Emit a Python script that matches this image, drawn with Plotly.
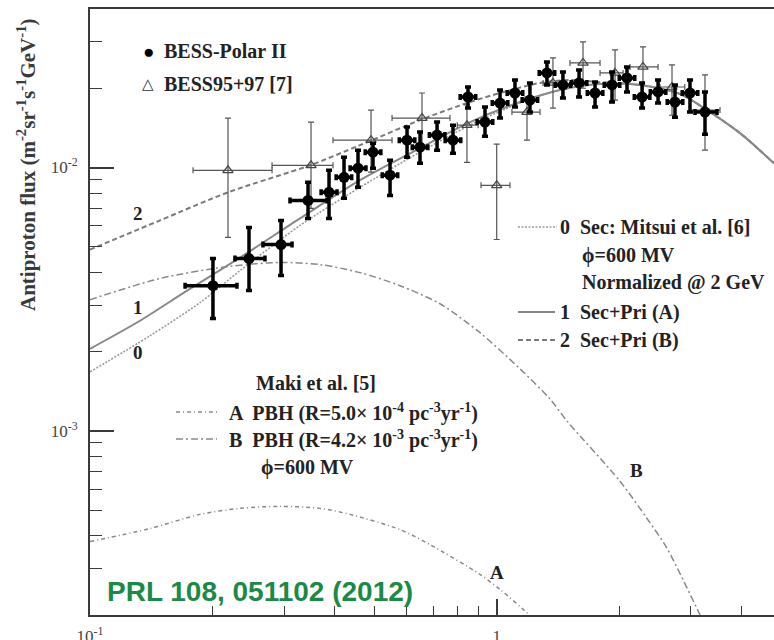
import plotly.graph_objects as go

# ---------------- data ----------------
# BESS-Polar II
bp_E = [0.2006, 0.246, 0.2949, 0.3436, 0.387, 0.4213, 0.456, 0.4964, 0.5467, 0.6019,
        0.6478, 0.7134, 0.7807, 0.85, 0.9359, 1.019, 1.109, 1.207, 1.329, 1.455,
        1.594, 1.745, 1.921, 2.091, 2.277, 2.493, 2.744, 2.987, 3.252]
bp_E_lo = [0.1713, 0.2272, 0.2662, 0.3103, 0.370, 0.403, 0.436, 0.475, 0.523, 0.576,
           0.620, 0.683, 0.747, 0.813, 0.895, 0.975, 1.061, 1.155, 1.272, 1.392,
           1.525, 1.670, 1.838, 2.001, 2.179, 2.386, 2.626, 2.858, 3.073]
bp_E_hi = [0.2298, 0.2693, 0.3139, 0.3825, 0.405, 0.440, 0.477, 0.519, 0.571, 0.629,
           0.677, 0.746, 0.816, 0.888, 0.978, 1.065, 1.159, 1.261, 1.389, 1.520,
           1.666, 1.824, 2.007, 2.185, 2.380, 2.605, 2.868, 3.122, 3.481]
bp_flux = [3.56e-3, 4.51e-3, 5.10e-3, 7.50e-3, 8.05e-3, 9.18e-3, 9.94e-3, 1.144e-2, 9.35e-3, 1.27e-2,
           1.195e-2, 1.328e-2, 1.27e-2, 1.853e-2, 1.488e-2, 1.758e-2, 1.919e-2, 1.804e-2, 2.287e-2, 2.059e-2,
           2.095e-2, 1.919e-2, 2.059e-2, 2.189e-2, 1.853e-2, 1.936e-2, 1.773e-2, 1.919e-2, 1.624e-2]
bp_flux_hi = [4.51e-3, 5.92e-3, 6.29e-3, 8.79e-3, 9.76e-3, 1.094e-2, 1.164e-2, 1.238e-2, 1.066e-2, 1.424e-2,
              1.363e-2, 1.488e-2, 1.449e-2, 2.022e-2, 1.697e-2, 1.97e-2, 2.15e-2, 2.095e-2, 2.518e-2, 2.307e-2,
              2.348e-2, 2.113e-2, 2.307e-2, 2.41e-2, 2.095e-2, 2.15e-2, 2.059e-2, 2.15e-2, 1.936e-2]
bp_flux_lo = [2.67e-3, 3.41e-3, 3.89e-3, 6.41e-3, 6.41e-3, 7.64e-3, 8.41e-3, 9.94e-3, 7.84e-3, 1.094e-2,
              1.038e-2, 1.164e-2, 1.134e-2, 1.682e-2, 1.316e-2, 1.541e-2, 1.697e-2, 1.624e-2, 2.059e-2, 1.837e-2,
              1.853e-2, 1.697e-2, 1.773e-2, 1.936e-2, 1.682e-2, 1.758e-2, 1.553e-2, 1.624e-2, 1.339e-2]

# BESS95+97
b9_E = [0.2184, 0.3495, 0.4909, 0.6551, 0.845, 1.0, 1.187, 1.375, 1.630, 1.954, 2.289, 2.698, 3.252]
b9_E_lo = [0.1792, 0.2803, 0.3958, 0.5529, 0.80, 0.915, 1.090, 1.30, 1.514, 1.795, 2.127, 2.52, 2.987]
b9_E_hi = [0.2803, 0.3958, 0.5529, 0.7675, 0.90, 1.078, 1.278, 1.45, 1.795, 2.045, 2.493, 2.90, 3.54]
b9_flux = [9.76e-3, 1.02e-2, 1.27e-2, 1.541e-2, 1.449e-2, 8.56e-3, 1.624e-2, 2.095e-2, 2.497e-2, 2.287e-2,
           2.41e-2, 2.022e-2, 1.653e-2]
b9_flux_hi = [1.541e-2, 1.488e-2, 1.653e-2, 1.919e-2, 1.73e-2, 1.227e-2, 1.85e-2, 2.608e-2, 3.0e-2, 2.798e-2,
              2.872e-2, 2.453e-2, 2.247e-2]
b9_flux_lo = [5.43e-3, 7.0e-3, 9.6e-3, 1.216e-2, 1.047e-2, 5.33e-3, 1.27e-2, 1.682e-2, 2.0e-2, 1.804e-2,
              1.88e-2, 1.58e-2, 1.164e-2]

# model curves
c0_E = [0.1, 0.1404, 0.1864, 0.2338, 0.3284, 0.4612, 0.6475, 0.86, 1.141, 1.431, 1.795, 2.251, 2.823, 3.289, 3.965, 4.806]
c0_flux = [1.675e-3, 2.297e-3, 3.07e-3, 4.06e-3, 6.03e-3, 8.41e-3, 1.144e-2, 1.449e-2, 1.758e-2, 1.97e-2,
           2.077e-2, 2.059e-2, 1.902e-2, 1.653e-2, 1.351e-2, 1.038e-2]
c1_E = [0.1, 0.1327, 0.1732, 0.2338, 0.3284, 0.4612, 0.6475, 0.86, 1.141, 1.431, 1.795, 2.251, 2.823, 3.289, 3.965, 4.806]
c1_flux = [2.05e-3, 2.62e-3, 3.41e-3, 4.55e-3, 6.41e-3, 8.95e-3, 1.184e-2, 1.488e-2, 1.773e-2, 1.97e-2,
           2.077e-2, 2.059e-2, 1.902e-2, 1.653e-2, 1.351e-2, 1.038e-2]
c2_E = [0.1, 0.1486, 0.2184, 0.3475, 0.4612, 0.6475, 0.86, 1.019, 1.278, 1.514, 1.795, 2.251, 2.823, 3.289, 3.965, 4.806]
c2_flux = [4.88e-3, 6.30e-3, 8.05e-3, 1.02e-2, 1.216e-2, 1.514e-2, 1.773e-2, 1.919e-2, 2.095e-2, 2.15e-2,
           2.11e-2, 2.059e-2, 1.902e-2, 1.653e-2, 1.351e-2, 1.038e-2]
cA_E = [0.1, 0.1404, 0.1864, 0.2338, 0.2932, 0.3677, 0.4357, 0.5783, 0.6855, 0.9097, 1.019, 1.207, 1.278]
cA_flux = [3.80e-4, 4.26e-4, 4.82e-4, 5.08e-4, 5.17e-4, 5.08e-4, 4.82e-4, 4.22e-4, 3.70e-4, 2.85e-4,
           2.50e-4, 1.99e-4, 1.805e-4]
cB_E = [0.1, 0.1486, 0.2184, 0.2932, 0.3677, 0.4612, 0.5783, 0.7252, 0.9097, 1.141, 1.352, 1.489,
        2.010, 2.342, 2.623, 3.161, 3.384]
cB_flux = [3.15e-3, 3.79e-3, 4.21e-3, 4.36e-3, 4.28e-3, 3.99e-3, 3.56e-3, 3.04e-3, 2.36e-3, 1.72e-3,
           1.322e-3, 1.09e-3, 6.44e-4, 4.65e-4, 3.58e-4, 2.005e-4, 1.63e-4]

x_major = [0.1, 1]
x_major_text = ["10<sup>-1</sup>", "1"]
x_minor = [0.2, 0.3, 0.4, 0.5, 0.6, 0.7, 0.8, 0.9, 2, 3, 4]
y_major = [1e-3, 1e-2]
y_major_text = ["10<sup>-3</sup>", "10<sup>-2</sup>"]
y_minor = [3e-4, 4e-4, 5e-4, 6e-4, 7e-4, 8e-4, 9e-4,
           2e-3, 3e-3, 4e-3, 5e-3, 6e-3, 7e-3, 8e-3, 9e-3, 2e-2, 3e-2, 4e-2]

# ---------------- figure ----------------
SERIF = "Liberation Serif, Times New Roman, serif"
TXT = "#222222"
FS = 20

fig = go.Figure()

def curve(x, y, dash, width, color):
    fig.add_trace(go.Scatter(x=x, y=y, mode="lines", showlegend=False, hoverinfo="skip",
                             line=dict(color=color, width=width, dash=dash, shape="spline", smoothing=0.8)))

curve(cA_E, cA_flux, "4px,3px,1px,3px", 1.5, "#8a8a8a")
curve(cB_E, cB_flux, "7px,3px,2px,3px", 1.5, "#8a8a8a")
curve(c0_E, c0_flux, "2px,1.5px", 1.6, "#9a9a9a")
curve(c2_E, c2_flux, "5px,3px", 2, "#7a7a7a")
curve(c1_E, c1_flux, "solid", 2, "#888888")

fig.add_trace(go.Scatter(
    x=b9_E, y=b9_flux, mode="markers", showlegend=False,
    marker=dict(symbol="triangle-up-open", size=9, color="#444444", line=dict(width=1.2, color="#444444")),
    error_y=dict(type="data", symmetric=False,
                 array=[h - v for h, v in zip(b9_flux_hi, b9_flux)],
                 arrayminus=[v - l for v, l in zip(b9_flux, b9_flux_lo)],
                 color="#555555", thickness=1.2, width=3),
    error_x=dict(type="data", symmetric=False,
                 array=[h - v for h, v in zip(b9_E_hi, b9_E)],
                 arrayminus=[v - l for v, l in zip(b9_E, b9_E_lo)],
                 color="#555555", thickness=1.2, width=3),
))

fig.add_trace(go.Scatter(
    x=bp_E, y=bp_flux, mode="markers", showlegend=False,
    marker=dict(symbol="circle", size=11, color="black"),
    error_y=dict(type="data", symmetric=False,
                 array=[h - v for h, v in zip(bp_flux_hi, bp_flux)],
                 arrayminus=[v - l for v, l in zip(bp_flux, bp_flux_lo)],
                 color="black", thickness=3.5, width=3),
    error_x=dict(type="data", symmetric=False,
                 array=[h - v for h, v in zip(bp_E_hi, bp_E)],
                 arrayminus=[v - l for v, l in zip(bp_E, bp_E_lo)],
                 color="black", thickness=3.5, width=3),
))

W, H = 774, 640
ML, MR, MT, MB = 90, 0, 9, 25
PW, PH = W - ML - MR, H - MT - MB

def px(xp):
    return (xp - ML) / PW

def py(yp):
    return 1 - (yp - MT) / PH

def ann(text, x, y, xanchor="left", size=FS, color=TXT, family=SERIF, bold=True, angle=0):
    fig.add_annotation(text=("<b>%s</b>" % text) if bold else text, x=px(x), y=py(y),
                       xref="paper", yref="paper", xanchor=xanchor, yanchor="middle",
                       showarrow=False, textangle=angle,
                       font=dict(size=size, color=color, family=family))

def sample(x0, x1, y, dash, width=1.6, color="#808080"):
    fig.add_shape(type="line", xref="paper", yref="paper", x0=px(x0), x1=px(x1), y0=py(y), y1=py(y),
                  line=dict(color=color, width=width, dash=dash))

# top-left legend
ann("●", 148, 51, xanchor="center", size=19, bold=False, color="black")
ann("BESS-Polar II", 162, 51)
ann("△", 148, 84, xanchor="center", size=15, bold=False, color="#333333")
ann("BESS95+97 [7]", 162, 84)

# curve numbers
ann("2", 138, 213, xanchor="center", size=19)
ann("1", 138, 308, xanchor="center", size=19)
ann("0", 138, 352, xanchor="center", size=19)

# right legend
sample(518, 557, 227, "2px,1.5px", 1.6, "#9a9a9a")
ann("0  Sec: Mitsui et al. [6]", 558, 227)
ann("ϕ=600 MV", 580, 255)
ann("Normalized @ 2 GeV", 580, 282)
sample(518, 555, 312, "solid", 2, "#888888")
ann("1  Sec+Pri (A)", 558, 312)
sample(518, 555, 340, "5px,3px", 2, "#7a7a7a")
ann("2  Sec+Pri (B)", 558, 340)

# middle legend
ann("Maki et al. [5]", 254, 383)
sample(176, 217, 412, "4px,3px,1px,3px", 1.5, "#8a8a8a")
ann("A  PBH (R=5.0× 10<sup>-4</sup> pc<sup>-3</sup>yr<sup>-1</sup>)", 227, 412)
sample(176, 217, 439, "7px,3px,2px,3px", 1.5, "#8a8a8a")
ann("B  PBH (R=4.2× 10<sup>-3</sup> pc<sup>-3</sup>yr<sup>-1</sup>)", 227, 439)
ann("ϕ=600 MV", 259, 467)

ann("B", 636, 470, xanchor="center", size=19)
ann("A", 497, 572, xanchor="center", size=19)

ann("PRL 108, 051102 (2012)", 105, 591, size=28, color="#1b8a47",
    family="Liberation Sans, Arial, sans-serif")

# y-axis title
ann("Antiproton flux (m<sup>-2</sup>sr<sup>-1</sup>s<sup>-1</sup>GeV<sup>-1</sup>)", 26, 165,
    xanchor="center", size=21, color="#3a3a3a", angle=-90)

axis_common = dict(type="log", showgrid=False, zeroline=False, showline=True, automargin=False,
                   linecolor="#3a3a3a", linewidth=2, ticks="inside", tickcolor="#3a3a3a",
                   tickwidth=1.5, tickfont=dict(family=SERIF, size=17, color="#444444"))

fig.update_layout(
    width=W, height=H, margin=dict(l=ML, r=MR, t=MT, b=MB, autoexpand=False),
    paper_bgcolor="white", plot_bgcolor="white", showlegend=False,
    xaxis=dict(**axis_common, range=[-1, 0.6818], tickmode="array", tickvals=x_major,
               ticktext=x_major_text, ticklen=16, mirror=True, ticklabelstandoff=5,
               minor=dict(tickmode="array", tickvals=x_minor, ticks="inside", ticklen=9,
                          tickcolor="#3a3a3a", tickwidth=1.2)),
    yaxis=dict(**axis_common, range=[-3.699, -1.398], tickmode="array", tickvals=y_major,
               ticktext=y_major_text, ticklen=24, ticklabelstandoff=7,
               minor=dict(tickmode="array", tickvals=y_minor, ticks="inside", ticklen=12,
                          tickcolor="#3a3a3a", tickwidth=1.2)),
)

fig.write_html("out.html")
